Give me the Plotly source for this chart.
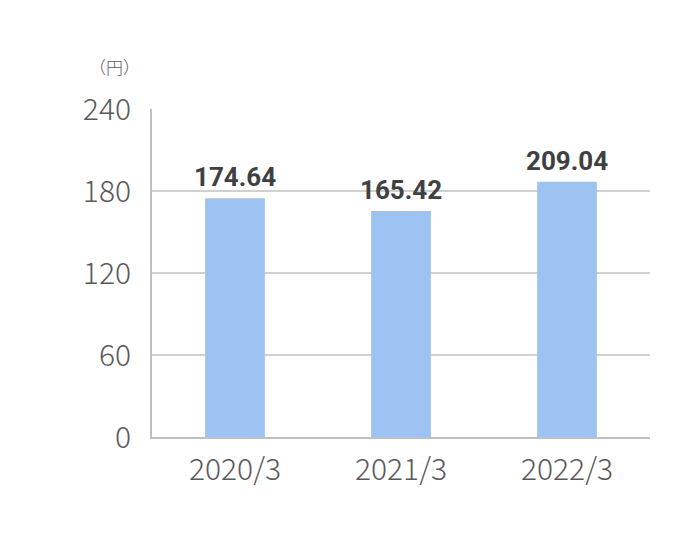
import plotly.graph_objects as go

categories = ["2020/3", "2021/3", "2022/3"]
# bar heights as drawn in the reference picture (third bar is drawn shorter than its label)
bar_heights = [174.64, 165.42, 186.8]
value_labels = ["174.64", "165.42", "209.04"]
y_ticks = [0, 60, 120, 180, 240]

fig = go.Figure()
fig.add_trace(go.Bar(
    x=categories, y=bar_heights,
    marker=dict(color="#9DC3F3", line=dict(width=0)),
    hovertext=value_labels,
))
for cat, h, lab in zip(categories, bar_heights, value_labels):
    fig.add_annotation(
        x=cat, y=h, text=lab, showarrow=False,
        xanchor="center", yanchor="bottom", yshift=4,
        font=dict(family="Roboto", size=26, color="#404040", weight="bold"),
    )
fig.update_layout(
    width=690, height=544,
    margin=dict(l=144, r=48, t=101, b=115),
    paper_bgcolor="white", plot_bgcolor="white",
    bargap=0.64,
    showlegend=False,
    font=dict(family="Noto Sans CJK JP", color="#595959"),
)
fig.update_xaxes(
    showline=True, linecolor="#BFBFBF", linewidth=2,
    tickfont=dict(size=30, color="#595959", family="Noto Sans CJK JP", weight=300),
    ticks="", ticklabelstandoff=5,
)
fig.update_yaxes(
    range=[0, 240], tickvals=y_ticks,
    showgrid=True, gridcolor="#D0D0D0", gridwidth=1.5,
    showline=True, linecolor="#BFBFBF", linewidth=2,
    zeroline=False,
    tickfont=dict(size=30, color="#595959", family="Noto Sans CJK JP", weight=300),
    ticks="", ticklabelstandoff=13,
)
fig.add_annotation(
    text="（円）", xref="paper", yref="paper", x=-0.075, y=1.13,
    xanchor="center", yanchor="middle", showarrow=False,
    font=dict(size=17, color="#595959", family="Noto Sans CJK JP", weight=300),
)
fig.write_html("out.html")
